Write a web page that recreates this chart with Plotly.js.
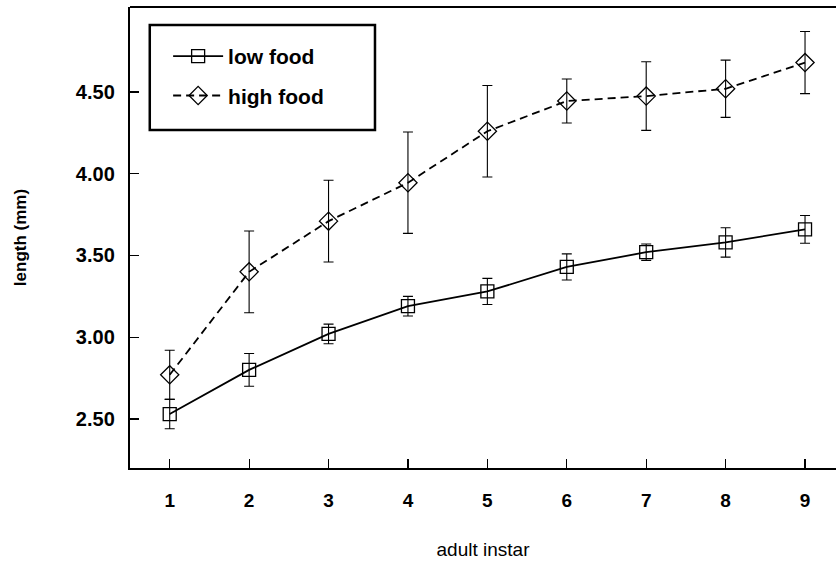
<!DOCTYPE html>
<html>
<head>
<meta charset="utf-8">
<script src="https://cdn.plot.ly/plotly-3.0.1.min.js"></script>
<style>html,body{margin:0;padding:0;background:#fff;}#chart{width:836px;height:568px;}</style>
</head>
<body>
<div id="chart"></div>
<script>
const instar = [1, 2, 3, 4, 5, 6, 7, 8, 9];
const lowFood = [2.53, 2.80, 3.02, 3.19, 3.28, 3.43, 3.52, 3.58, 3.66];
const lowFoodErr = [0.09, 0.10, 0.06, 0.06, 0.08, 0.08, 0.05, 0.09, 0.085];
const highFood = [2.77, 3.40, 3.71, 3.945, 4.26, 4.445, 4.475, 4.52, 4.68];
const highFoodErr = [0.15, 0.25, 0.25, 0.31, 0.28, 0.135, 0.21, 0.175, 0.19];
const yTicks = [2.5, 3.0, 3.5, 4.0, 4.5];
const xTicks = [1, 2, 3, 4, 5, 6, 7, 8, 9];

const font = "Liberation Sans, Arial, sans-serif";

const traces = [
  {
    x: instar, y: lowFood, name: "low food", legendgroup: "a",
    type: "scatter", mode: "lines+markers",
    line: {color: "#000", width: 1.8, dash: "solid"},
    marker: {symbol: "square-open", size: 13, color: "#000", line: {width: 1.3}},
    error_y: {type: "data", array: lowFoodErr, visible: true, color: "#000", thickness: 1.1, width: 5}
  },
  {
    x: instar, y: highFood, name: "high food", legendgroup: "b",
    type: "scatter", mode: "lines+markers",
    line: {color: "#000", width: 1.8, dash: "8px,5px"},
    marker: {symbol: "diamond-open", size: 14, color: "#000", line: {width: 1.3}},
    error_y: {type: "data", array: highFoodErr, visible: true, color: "#000", thickness: 1.1, width: 5}
  }
];

const layout = {
  width: 836, height: 568,
  margin: {l: 130, r: 0, t: 7, b: 100},
  paper_bgcolor: "#fff", plot_bgcolor: "#fff",
  font: {family: font, color: "#000"},
  showlegend: true,
  legend: {
    x: 0.054, y: 0.937, xanchor: "left", yanchor: "top",
    bgcolor: "rgba(0,0,0,0)", borderwidth: 0,
    font: {family: font, size: 21, color: "#000", weight: "bold"},
    itemwidth: 50, tracegroupgap: 9, traceorder: "grouped"
  },
  xaxis: {
    range: [0.5, 9.39], tickvals: xTicks, ticktext: xTicks.map(String),
    ticks: "inside", ticklen: 9, tickwidth: 1.2, tickcolor: "#000",
    showline: true, linewidth: 2.2, linecolor: "#000", mirror: false,
    showgrid: false, zeroline: false,
    tickfont: {family: font, size: 19, color: "#000", weight: "bold"},
    ticklabelstandoff: 14,
    title: {text: "adult instar", font: {family: font, size: 19, color: "#000"}, standoff: 33}
  },
  yaxis: {
    range: [2.2, 5.02], tickvals: yTicks, tickformat: ".2f",
    ticks: "inside", ticklen: 9, tickwidth: 1.2, tickcolor: "#000",
    showline: true, linewidth: 2.2, linecolor: "#000", mirror: false,
    showgrid: false, zeroline: false,
    tickfont: {family: font, size: 20, color: "#000", weight: "bold"},
    ticklabelstandoff: 9,
    title: {text: "length (mm)", font: {family: font, size: 17, color: "#000", weight: "bold"}, standoff: 45}
  },
  shapes: [
    {type: "line", xref: "paper", yref: "paper", x0: 0, x1: 1, y0: 1, y1: 1,
     line: {color: "#000", width: 2}},
    {type: "rect", xref: "paper", yref: "paper", x0: 0.028, x1: 0.347, y0: 0.733, y1: 0.961,
     line: {color: "#000", width: 2.5}, fillcolor: "rgba(0,0,0,0)"}
  ]
};

Plotly.newPlot("chart", traces, layout, {staticPlot: true, displayModeBar: false});
</script>
</body>
</html>
